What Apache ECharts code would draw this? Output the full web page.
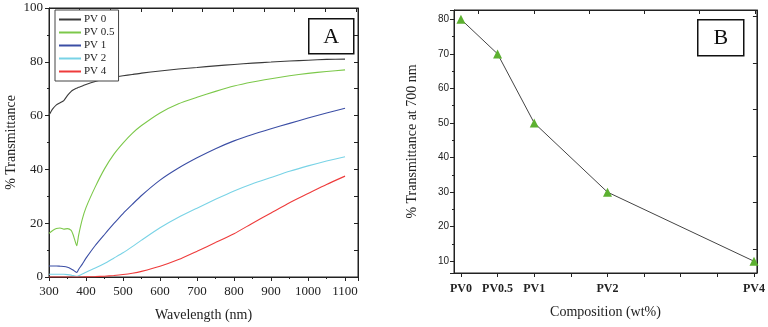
<!DOCTYPE html>
<html><head><meta charset="utf-8">
<script src="https://cdn.jsdelivr.net/npm/echarts@6/dist/echarts.min.js"></script>
<style>html,body{margin:0;padding:0;background:#fff}#c{width:768px;height:327px}</style>
</head><body><div id="c"></div>
<script>
var wavelength = [300,310,320,330,340,350,360,365,370,375,380,390,400,425,450,475,500,525,550,600,650,700,750,800,850,900,950,1000,1050,1100];
var pv0  = [60.2,62.5,64,64.8,65.6,67.5,69,69.5,69.9,70.2,70.5,71,71.6,72.7,73.5,74.2,74.8,75.3,75.8,76.6,77.3,77.9,78.5,79,79.5,79.9,80.3,80.6,80.9,81];
var pv05 = [16.2,17.3,18,18.2,17.8,18,17.3,15.8,13.6,11.6,15.5,21.5,25.8,33.5,40.2,45.6,49.8,53.4,56.3,61,64.4,66.8,69,71,72.5,73.7,74.8,75.7,76.4,77];
var pv1  = [4.1,4.1,4.1,4,3.9,3.6,3,2.6,2.1,1.7,2.8,4.8,7,11.7,15.8,19.8,23.6,27,30.3,36,40.5,44.3,47.7,50.6,53,55.1,57.1,59.1,61,62.7];
var pv2  = [1,1,1,1,1,0.9,0.7,0.5,0.4,0.3,0.5,1.1,1.8,3.3,5,7,9,11.3,13.7,18.3,22.2,25.6,28.9,32,34.7,37,39.3,41.3,43.1,44.7];
var pv4  = [0,0,0,0,0,0,0,0,0,0,0,0,0.05,0.15,0.3,0.55,0.9,1.4,2.1,4,6.5,9.6,12.8,16.1,20,23.8,27.6,31,34.4,37.5];
var seriesNames = ['PV 0','PV 0.5','PV 1','PV 2','PV 4'];
var compositions = [0,0.5,1,2,4];
var compLabels = ['PV0','PV0.5','PV1','PV2','PV4'];
var trans700 = [80,70,50,30,10];

var serif = '"Liberation Serif", "DejaVu Serif", serif';
var sans = '"Liberation Sans", Arial, sans-serif';
var colors = ['#3a3a3a','#7cc84a','#3b4ea5','#79d3e6','#ee3b3b'];
var spectra = [pv0,pv05,pv1,pv2,pv4];

function pairs(xs, ys){ return xs.map(function(x,i){return [x, ys[i]];}); }

var chart = echarts.init(document.getElementById('c'), null, {renderer:'canvas'});
var axLine = {show:true, onZero:false, lineStyle:{color:'#222', width:1}};
var series = spectra.map(function(d,i){
  return {type:'line', name:seriesNames[i], xAxisIndex:0, yAxisIndex:0, data:pairs(wavelength,d),
    showSymbol:false, symbol:'none', smooth:0.2, lineStyle:{color:colors[i], width:1.1}, itemStyle:{color:colors[i]}, animation:false};
});
series.push({type:'line', name:'B', xAxisIndex:2, yAxisIndex:2, data:pairs(compositions, trans700),
  symbol:'triangle', symbolSize:9, lineStyle:{color:'#444', width:1}, itemStyle:{color:'#5cb030'}, animation:false});

chart.setOption({
  animation:false,
  grid:[{left:49, right:410, top:8, bottom:50, show:true, borderColor:'#222', borderWidth:1},
        {left:454, right:7, top:10, bottom:54, show:true, borderColor:'#222', borderWidth:1}],
  legend:{data:seriesNames, orient:'vertical', left:55, top:10, padding:[4,4,4,3], itemGap:2, itemWidth:22, itemHeight:11,
    backgroundColor:'#fff', borderColor:'#444', borderWidth:1, itemStyle:{opacity:0},
    textStyle:{fontFamily:serif, fontSize:11, color:'#222', padding:[0,0,0,-2]}},
  xAxis:[
    {type:'value', gridIndex:0, min:300, max:1135, interval:100, axisLine:axLine,
     axisTick:{inside:false, length:4, lineStyle:{color:'#222'}}, minorTick:{show:true, splitNumber:2, length:2, lineStyle:{color:'#222'}},
     splitLine:{show:false}, axisLabel:{fontFamily:serif, fontSize:13, color:'#222', margin:8, showMaxLabel:false,
       formatter:function(v){ return String(v); }},
     name:'Wavelength (nm)', nameLocation:'middle', nameGap:31, nameTextStyle:{fontFamily:serif, fontSize:14, color:'#222'}},
    {type:'value', gridIndex:0, position:'top', min:0, max:10.06, interval:1, axisLine:axLine,
     axisTick:{inside:true, length:4, lineStyle:{color:'#222'}}, axisLabel:{show:false}, splitLine:{show:false}},
    {type:'value', gridIndex:1, min:-0.095, max:4.04, splitNumber:8, axisLine:axLine,
     axisTick:{inside:false, length:4, lineStyle:{color:'#222'}}, splitLine:{show:false},
     axisLabel:{fontFamily:serif, fontSize:12, fontWeight:'bold', color:'#222', margin:10, showMinLabel:false, showMaxLabel:false,
       formatter:function(v){ var k = compositions.indexOf(v); return k>=0 ? compLabels[k] : ''; }},
     name:'Composition (wt%)', nameLocation:'middle', nameGap:32, nameTextStyle:{fontFamily:serif, fontSize:14, color:'#222'}},
    {type:'value', gridIndex:1, position:'top', min:-0.446, max:5.036, splitNumber:5, axisLine:axLine,
     axisTick:{inside:true, length:4, lineStyle:{color:'#222'}}, axisLabel:{show:false}, splitLine:{show:false}}
  ],
  yAxis:[
    {type:'value', gridIndex:0, min:0, max:100, interval:20, axisLine:axLine,
     axisTick:{inside:false, length:4, lineStyle:{color:'#222'}}, minorTick:{show:true, splitNumber:2, length:2, lineStyle:{color:'#222'}},
     splitLine:{show:false}, axisLabel:{fontFamily:serif, fontSize:13, color:'#222', margin:6},
     name:'% Transmittance', nameLocation:'middle', nameGap:31, nameTextStyle:{fontFamily:serif, fontSize:14, color:'#222'}},
    {type:'value', gridIndex:0, position:'right', min:0, max:100, interval:10, axisLine:axLine,
     axisTick:{inside:true, length:4, lineStyle:{color:'#222'}}, axisLabel:{show:false}, splitLine:{show:false}},
    {type:'value', gridIndex:1, min:6.6, max:82.7, splitNumber:8, axisLine:axLine,
     axisTick:{inside:false, length:4, lineStyle:{color:'#222'}}, minorTick:{show:true, splitNumber:2, length:2, lineStyle:{color:'#222'}},
     splitLine:{show:false}, axisLabel:{fontFamily:sans, fontSize:10, color:'#222', margin:5, showMinLabel:false, showMaxLabel:false},
     name:'% Transmittance at 700 nm', nameLocation:'middle', nameGap:35, nameTextStyle:{fontFamily:serif, fontSize:14, color:'#222'}},
    {type:'value', gridIndex:1, position:'right', min:-0.516, max:5.14, splitNumber:5, axisLine:axLine,
     axisTick:{inside:true, length:4, lineStyle:{color:'#222'}}, axisLabel:{show:false}, splitLine:{show:false}}
  ],
  graphic:[
    {type:'group', left:308, top:18, children:[
      {type:'rect', shape:{x:0,y:0,width:45,height:35}, style:{fill:'#fff', stroke:'#111', lineWidth:1.5}},
      {type:'text', x:22.5, y:18, style:{text:'A', font:'22px "Liberation Serif", serif', fill:'#111', align:'center', verticalAlign:'middle'}}
    ]},
    {type:'group', left:697, top:19, children:[
      {type:'rect', shape:{x:0,y:0,width:46,height:36}, style:{fill:'#fff', stroke:'#111', lineWidth:1.5}},
      {type:'text', x:23, y:18.5, style:{text:'B', font:'22px "Liberation Serif", serif', fill:'#111', align:'center', verticalAlign:'middle'}}
    ]}
  ],
  series:series
});
</script></body></html>
